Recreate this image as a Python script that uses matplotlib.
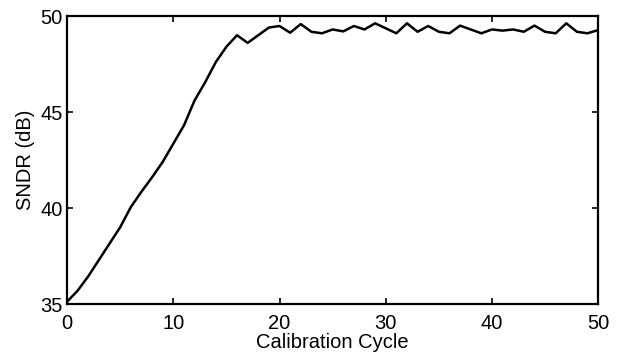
import numpy as np
import matplotlib
matplotlib.use('Agg')
import matplotlib.pyplot as plt

# SNDR, one value per calibration cycle 0..50
cycles = list(range(0, 51))
sndr = [35.12, 35.7, 36.45, 37.3, 38.15, 39.0, 40.05, 40.85, 41.6, 42.4,
        43.35, 44.3, 45.6, 46.55, 47.6, 48.4, 49.0, 48.6, 49.0, 49.4,
        49.48, 49.13, 49.58, 49.18, 49.1, 49.3, 49.2, 49.48, 49.3, 49.62,
        49.36, 49.1, 49.62, 49.18, 49.48, 49.18, 49.1, 49.5, 49.3, 49.1,
        49.3, 49.24, 49.3, 49.18, 49.5, 49.18, 49.1, 49.62, 49.18, 49.1,
        49.27]
xticks = [0, 10, 20, 30, 40, 50]
yticks = [35, 40, 45, 50]

plt.rcParams['font.family'] = ['Liberation Sans', 'DejaVu Sans']

fig = plt.figure(figsize=(6.27, 3.56), dpi=100)
ax = fig.add_axes([0.107, 0.146, 0.847, 0.809])
ax.plot(cycles, sndr, color='black', linewidth=1.8)

ax.set_xlim(0, 50)
ax.set_ylim(35, 50)
ax.set_xticks(xticks)
ax.set_yticks(yticks)
ax.tick_params(direction='in', top=True, right=True, length=4, width=1.2,
               labelsize=14.5)
ax.tick_params(axis='x', pad=7)
ax.tick_params(axis='y', pad=3)
for s in ax.spines.values():
    s.set_linewidth(1.6)
ax.set_xlabel('Calibration Cycle', fontsize=14.5, labelpad=0)
ax.set_ylabel('SNDR (dB)', fontsize=14.5, labelpad=4)

fig.savefig('out.png', dpi=100)
